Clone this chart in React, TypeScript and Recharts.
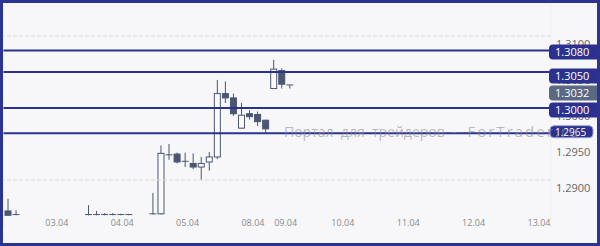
import React from 'react';
import { ComposedChart, Bar, XAxis, YAxis, CartesianGrid, ReferenceLine } from 'recharts';

// ---- data ----
const slotCount = 68;
const candleSlots = [0, 1, 10, 11, 12, 13, 14, 15, 18, 19, 20, 21, 22, 23, 24, 25, 26, 27, 28, 29, 30, 31, 32, 33, 34, 35];
const opens = [1.2857, 1.2852, 1.2852, 1.2852, 1.2852, 1.2852, 1.2852, 1.2852, 1.2853, 1.2853, 1.2935, 1.2936, 1.2926, 1.2923, 1.2918, 1.2925, 1.2932, 1.3020, 1.3014, 1.2972, 1.2992, 1.2991, 1.2983, 1.3027, 1.3052, 1.3032];
const highs = [1.2874, 1.2858, 1.2865, 1.2857, 1.2854, 1.2854, 1.2853, 1.2853, 1.2882, 1.2948, 1.2950, 1.2938, 1.2938, 1.2937, 1.2932, 1.2939, 1.3039, 1.3037, 1.3020, 1.3007, 1.2997, 1.2995, 1.2984, 1.3067, 1.3055, 1.3032];
const lows = [1.2851, 1.2851, 1.2851, 1.2851, 1.2851, 1.2851, 1.2851, 1.2851, 1.2852, 1.2852, 1.2928, 1.2923, 1.2918, 1.2915, 1.2900, 1.2913, 1.2929, 1.3007, 1.2989, 1.2971, 1.2984, 1.2975, 1.2966, 1.3027, 1.3027, 1.3027];
const closes = [1.2851, 1.2852, 1.2852, 1.2852, 1.2852, 1.2852, 1.2852, 1.2852, 1.2853, 1.2937, 1.2935, 1.2925, 1.2926, 1.2918, 1.2923, 1.2932, 1.3020, 1.3014, 1.2992, 1.2990, 1.2988, 1.2981, 1.2971, 1.3054, 1.3033, 1.3032];

const dayStarts = [-3, 5, 13, 21, 29, 33, 40, 48, 56, 64];
const dayLabels = ['02.04', '03.04', '04.04', '05.04', '08.04', '09.04', '10.04', '11.04', '12.04', '13.04'];

const priceTicks = [1.31, 1.305, 1.30, 1.295, 1.29];
const gridLevels = [1.31, 1.30, 1.29];
const levelLines = [1.3080, 1.3050, 1.3000, 1.2965];
const currentPrice = 1.3032;
const watermarkA = 'Портал  для  трейдеров  -   ';
const watermarkB = 'ForTrader.ru';

// ---- styles ----
const BLUE = '#2c3190';
const CANDLE = '#4c5672';
const BG = '#f7f7f9';
const tagOffsets = [1.6, 4, 2, -1.5];

const rows = Array.from({ length: slotCount }, (_, i) => {
  const j = candleSlots.indexOf(i);
  if (j < 0) return { i, o: null, h: null, l: null, c: null };
  return { i, o: opens[j], h: highs[j], l: lows[j], c: closes[j] };
});

const rangeKey = (r: any) => (r.h == null ? null : [r.l, r.h]);

const Candle = (props: any) => {
  const { x, y, width, height, payload } = props;
  if (!payload || payload.h == null) return null;
  const { o, h, l, c } = payload;
  const ppu = h - l > 0 ? height / (h - l) : 0;
  const yv = (v: number) => y + (h - v) * ppu;
  const cx = x + width / 2;
  const top = yv(Math.max(o, c));
  const bot = yv(Math.min(o, c));
  return (
    <g>
      <line x1={cx} x2={cx} y1={y} y2={y + height} stroke={CANDLE} strokeWidth={1} />
      {bot - top < 0.8 ? (
        <line x1={x} x2={x + width} y1={top} y2={top} stroke={CANDLE} strokeWidth={1} />
      ) : (
        <rect x={x + 0.5} y={top} width={width - 1} height={bot - top} fill={c < o ? CANDLE : '#fafafb'} stroke={CANDLE} strokeWidth={1} />
      )}
    </g>
  );
};

const PriceLabel = (props: any) => {
  const { viewBox, value } = props;
  if (!viewBox) return null;
  const right = viewBox.x + viewBox.width;
  return (
    <text x={right + 5} y={viewBox.y + 7.5} dominantBaseline="central" textAnchor="start" fontFamily="Open Sans" fontSize={11} fill="#666666">
      {Number(value).toFixed(4)}
    </text>
  );
};

const DayLabel = (props: any) => {
  const { viewBox, value } = props;
  if (!viewBox) return null;
  return (
    <text x={viewBox.x + 1} y={viewBox.y + viewBox.height - 5.5} dominantBaseline="central" textAnchor="start" fontFamily="Open Sans" fontSize={9} fill="#8a8a8a">
      {value}
    </text>
  );
};

const Tag = (props: any) => {
  const { viewBox, value, dy, fill, small } = props;
  if (!viewBox) return null;
  const right = viewBox.x + viewBox.width;
  const cy = viewBox.y + dy;
  const h = small ? 12 : 15;
  const x0 = small ? right - 1 : right - 2;
  return (
    <g>
      <rect x={x0} y={cy - h / 2} width={small ? 43 : 56} height={h} rx={4} ry={4} fill={fill} stroke={small ? '#9aa0cc' : 'none'} strokeWidth={small ? 1 : 0} />
      <text x={right + 4} y={cy} dominantBaseline="central" textAnchor="start" fontFamily="Open Sans" fontSize={small ? 10 : 11} fill="#ffffff">
        {value.toFixed(4)}
      </text>
    </g>
  );
};

export default function App() {
  return (
    <div style={{ position: 'absolute', left: 0, top: 0, width: 600, height: 246, background: BG }}>
      <ComposedChart width={600} height={246} data={rows} margin={{ top: 3, right: 0, bottom: 17, left: 3.5 }}>
        <CartesianGrid xAxisId="lab" horizontal={false} vertical stroke="#efeff1" />
        <XAxis dataKey="i" type="category" hide />
        <XAxis
          xAxisId="lab"
          type="number"
          domain={[-0.5, slotCount - 0.5]}
          allowDataOverflow
          ticks={dayStarts}
          interval={0}
          height={1}
          tickLine={false}
          axisLine={{ stroke: '#e3e3e6' }}
          tick={false}
        />
        <YAxis
          orientation="right"
          width={49}
          domain={[1.283333, 1.314583]}
          allowDataOverflow
          ticks={priceTicks}
          axisLine={false}
          tickLine={false}
          tick={false}
        />
        {gridLevels.map((v) => (
          <ReferenceLine key={'g' + v} y={v} stroke="#d9d9dc" strokeDasharray="4 2" />
        ))}
        {priceTicks.map((v) => (
          <ReferenceLine key={'t' + v} y={v} stroke="none" label={<PriceLabel value={v} />} />
        ))}
        {dayStarts.map((d, k) => (
          <ReferenceLine
            key={'d' + d}
            xAxisId="lab"
            x={d}
            stroke="none"
            ifOverflow="visible"
            label={<DayLabel value={dayLabels[k]} />}
          />
        ))}
        <Bar dataKey={rangeKey} barSize={7} isAnimationActive={false} shape={(p: any) => <Candle {...p} />} />
        {levelLines.map((v, k) => (
          <ReferenceLine
            key={'l' + v}
            y={v}
            stroke={BLUE}
            strokeWidth={2}
            label={<Tag value={v} dy={tagOffsets[k]} fill={BLUE} small={k === 3} />}
          />
        ))}
        <ReferenceLine y={currentPrice} stroke="none" label={<Tag value={currentPrice} dy={8} fill="#5a6981" />} />
      </ComposedChart>
      <div
        style={{
          position: 'absolute',
          left: 284,
          top: 122,
          fontFamily: 'Open Sans',
          fontSize: 14,
          lineHeight: '18px',
          whiteSpace: 'pre',
          color: 'rgba(140,140,145,0.6)',
          pointerEvents: 'none',
        }}
      >
        {watermarkA}
        <span style={{ letterSpacing: 2, fontSize: 15 }}>{watermarkB}</span>
      </div>
      <div
        style={{
          position: 'absolute',
          left: 0,
          top: 0,
          width: 600,
          height: 246,
          boxSizing: 'border-box',
          border: '3px solid #2b3590',
          pointerEvents: 'none',
        }}
      />
    </div>
  );
}
